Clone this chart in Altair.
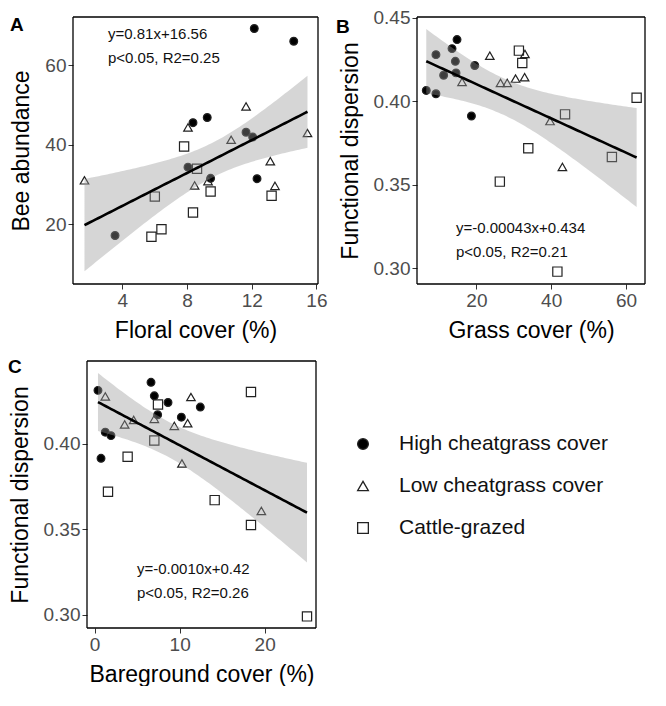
import altair as alt
import numpy as np
import pandas as pd

GROUPS = ["High cheatgrass cover", "Low cheatgrass cover", "Cattle-grazed"]

# Panel A: floral cover (%) vs bee abundance
a_high_x = [3.55, 8.37, 9.25, 8.06, 9.46, 11.65, 12.06, 12.16, 12.33, 14.6]
a_high_y = [17.1, 45.5, 46.8, 34.3, 31.5, 43.1, 41.9, 69.2, 31.4, 66.0]
a_low_x = [1.66, 8.06, 8.47, 9.3, 10.73, 11.65, 13.15, 13.44, 15.45]
a_low_y = [31.0, 44.3, 29.7, 30.8, 41.2, 49.6, 35.8, 29.6, 42.9]
a_cat_x = [7.82, 8.62, 6.01, 8.37, 5.8, 6.42, 9.46, 13.23]
a_cat_y = [39.5, 33.9, 26.9, 22.9, 16.8, 18.7, 28.2, 27.1]

# Panel B: grass cover (%) vs functional dispersion
b_high_x = [6.58, 9.17, 9.17, 11.23, 13.47, 14.81, 14.36, 14.54, 19.55, 18.66]
b_high_y = [0.4064, 0.4278, 0.4044, 0.4155, 0.4314, 0.4368, 0.4238, 0.4169, 0.4213, 0.3911]
b_low_x = [16.15, 23.58, 26.44, 28.23, 30.47, 32.89, 32.98, 39.69, 43.0]
b_low_y = [0.4115, 0.4272, 0.4109, 0.4109, 0.4135, 0.4143, 0.4282, 0.3881, 0.3607]
b_cat_x = [31.36, 32.26, 26.26, 33.87, 43.71, 41.66, 56.24, 62.86]
b_cat_y = [0.4302, 0.4228, 0.3519, 0.3718, 0.3921, 0.2981, 0.3666, 0.4020]

# Panel C: bareground cover (%) vs functional dispersion
c_high_x = [0.39, 0.75, 1.25, 1.92, 6.63, 7.02, 7.41, 8.63, 10.2, 12.43]
c_high_y = [0.4314, 0.3916, 0.4069, 0.4049, 0.4361, 0.4282, 0.4171, 0.4243, 0.4157, 0.4216]
c_low_x = [1.25, 3.53, 4.59, 7.02, 9.37, 10.94, 11.33, 10.27, 19.61]
c_low_y = [0.4278, 0.4114, 0.4141, 0.4147, 0.4106, 0.4122, 0.4275, 0.3886, 0.3608]
c_cat_x = [1.57, 3.88, 7.45, 7.02, 14.12, 18.39, 18.39, 24.98]
c_cat_y = [0.3720, 0.3925, 0.4231, 0.4020, 0.3671, 0.4304, 0.3525, 0.2990]

a_text = ["y=0.81x+16.56", "p<0.05, R2=0.25"]
b_text = ["y=-0.00043x+0.434", "p<0.05, R2=0.21"]
c_text = ["y=-0.0010x+0.42", "p<0.05, R2=0.26"]

T_CRIT = 2.0595  # t quantile (0.975, df=25)

SHAPE_SCALE = alt.Scale(domain=GROUPS, range=["circle", "triangle-up", "square"])
FILL_SCALE = alt.Scale(domain=GROUPS, range=["#000000", "transparent", "transparent"])
ONE = pd.DataFrame({"t": [0]})


def points_df(hx, hy, lx, ly, cx, cy):
    return pd.DataFrame({
        "x": hx + lx + cx,
        "y": hy + ly + cy,
        "Group": [GROUPS[0]] * len(hx) + [GROUPS[1]] * len(lx) + [GROUPS[2]] * len(cx),
    })


def fit_df(df):
    x = df["x"].to_numpy()
    y = df["y"].to_numpy()
    n = len(x)
    b1, b0 = np.polyfit(x, y, 1)
    res = y - (b0 + b1 * x)
    s = np.sqrt(np.sum(res ** 2) / (n - 2))
    xm = x.mean()
    sxx = np.sum((x - xm) ** 2)
    xs = np.linspace(x.min(), x.max(), 80)
    yh = b0 + b1 * xs
    se = s * np.sqrt(1 / n + (xs - xm) ** 2 / sxx)
    return pd.DataFrame({"x": xs, "yhat": yh, "lo": yh - T_CRIT * se, "hi": yh + T_CRIT * se})


def frame_rules(w, h):
    base = alt.Chart(ONE).mark_rule(color="black", strokeWidth=1.3)
    return [
        base.encode(x=alt.value(0), x2=alt.value(w), y=alt.value(0)),
        base.encode(x=alt.value(0), x2=alt.value(w), y=alt.value(h)),
        base.encode(x=alt.value(0), y=alt.value(0), y2=alt.value(h)),
        base.encode(x=alt.value(w), y=alt.value(0), y2=alt.value(h)),
    ]


def panel(df, xtitle, ytitle, xdom, ydom, xticks, yticks, yfmt, w, h, letter, lpos, ann, apos):
    fd = fit_df(df)
    xs = alt.Scale(domain=xdom, nice=False, zero=False)
    ys = alt.Scale(domain=ydom, nice=False, zero=False)
    xax = alt.Axis(title=xtitle, values=xticks, format="d")
    yax = alt.Axis(title=ytitle, values=yticks, format=yfmt)
    pts = alt.Chart(df).mark_point(filled=False, strokeWidth=1.2, opacity=1, stroke="#222").encode(
        x=alt.X("x:Q", scale=xs, axis=xax),
        y=alt.Y("y:Q", scale=ys, axis=yax),
        shape=alt.Shape("Group:N", scale=SHAPE_SCALE, legend=None),
        fill=alt.Fill("Group:N", scale=FILL_SCALE, legend=None),
        size=alt.Size("Group:N", scale=alt.Scale(domain=GROUPS, range=[60, 85, 75]), legend=None),
    )
    band = alt.Chart(fd).mark_area(color="#999999", opacity=0.4).encode(
        x=alt.X("x:Q", scale=xs), y=alt.Y("lo:Q", scale=ys), y2="hi:Q"
    )
    line = alt.Chart(fd).mark_line(color="black", strokeWidth=2.6).encode(
        x=alt.X("x:Q", scale=xs), y=alt.Y("yhat:Q", scale=ys)
    )
    txt = alt.Chart(ONE).mark_text(
        text=ann, align="left", baseline="middle", fontSize=15, lineHeight=24,
        font="Liberation Sans", color="#111"
    ).encode(x=alt.value(apos[0]), y=alt.value(apos[1]))
    lab = alt.Chart(ONE).mark_text(
        text=letter, align="left", baseline="top", fontSize=19, fontWeight="bold",
        font="Liberation Sans", color="black"
    ).encode(x=alt.value(lpos[0]), y=alt.value(lpos[1]))
    layers = [pts, band, line] + frame_rules(w, h) + [txt, lab]
    return alt.layer(*layers).properties(width=w, height=h)


dfa = points_df(a_high_x, a_high_y, a_low_x, a_low_y, a_cat_x, a_cat_y)
dfb = points_df(b_high_x, b_high_y, b_low_x, b_low_y, b_cat_x, b_cat_y)
dfc = points_df(c_high_x, c_high_y, c_low_x, c_low_y, c_cat_x, c_cat_y)

pa = panel(dfa, "Floral cover (%)", "Bee abundance", [0.95, 16.1], [4.9, 72.1],
           [4, 8, 12, 16], [20, 40, 60], "d", 245, 267, "A", (-63, -1), a_text, (35, 17))
pb = panel(dfb, "Grass cover (%)", "Functional dispersion", [4.1, 65.1], [0.2907, 0.4503],
           [20, 40, 60], [0.30, 0.35, 0.40, 0.45], ".2f", 228, 267, "B", (-81, 1), b_text, (39, 211))
pc = panel(dfc, "Bareground cover (%)", "Functional dispersion", [-0.9, 26.04], [0.2922, 0.4486],
           [0, 10, 20], [0.30, 0.35, 0.40], ".2f", 229, 267, "C", (-79, -3), c_text, (50, 208))

# Legend drawn as its own small chart
leg_df = pd.DataFrame({"Group": GROUPS})
leg_y = alt.Y("Group:N", sort=GROUPS, axis=None,
              scale=alt.Scale(type="point", domain=GROUPS, range=[83, 167], padding=0))
leg_pts = alt.Chart(leg_df).mark_point(filled=False, size=115, strokeWidth=1.3, opacity=1, stroke="#222").encode(
    x=alt.value(36), y=leg_y,
    shape=alt.Shape("Group:N", scale=SHAPE_SCALE, legend=None),
    fill=alt.Fill("Group:N", scale=FILL_SCALE, legend=None),
)
leg_txt = alt.Chart(leg_df).mark_text(
    align="left", baseline="middle", fontSize=21, font="Liberation Sans", color="#111"
).encode(x=alt.value(72), y=leg_y, text="Group:N")
legend = alt.layer(leg_pts, leg_txt).properties(width=300, height=180)

spacer = alt.Chart(ONE).mark_text(text=" ", opacity=0).encode(
    x=alt.value(0), y=alt.value(0)
).properties(width=3, height=10)

top_row = alt.hconcat(pa, pb, spacing=9)
bottom_row = alt.hconcat(spacer, pc, legend, spacing=11, bounds="flush")

chart = alt.vconcat(top_row, bottom_row, spacing=13).properties(
    padding={"left": 0, "top": 0, "right": 0, "bottom": 0}
).configure_view(
    stroke=None
).configure_axis(
    grid=False, domain=False, ticks=True, tickColor="#333", tickSize=5, tickWidth=1,
    labelFontSize=19, labelColor="#4d4d4d", labelFont="Liberation Sans", labelPadding=2,
    titleFontSize=23, titleFontWeight="normal", titleColor="black", titleFont="Liberation Sans",
).configure_axisX(
    titlePadding=9
).configure_axisY(
    titlePadding=11
)

chart.save("out.html", embed_options={"renderer": "svg", "actions": False})
